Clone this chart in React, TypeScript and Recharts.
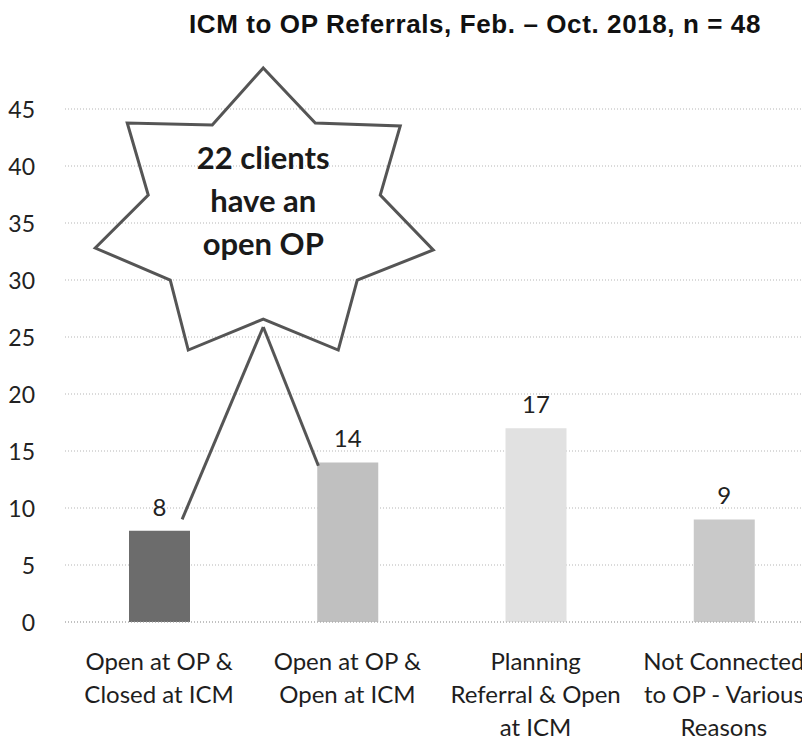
import React from "react"
import { BarChart, Bar, XAxis, YAxis, CartesianGrid, Cell, LabelList } from "recharts"

const categories = [
  "Open at OP &\nClosed at ICM",
  "Open at OP &\nOpen at ICM",
  "Planning\nReferral & Open\nat ICM",
  "Not Connected\nto OP - Various\nReasons",
]
const counts = [8, 14, 17, 9]
const barColors = ["#6c6c6c", "#c0c0c0", "#e1e1e1", "#c9c9c9"]
const yTicks = [0, 5, 10, 15, 20, 25, 30, 35, 40, 45]
const calloutLines = ["22 clients", "have an", "open OP"]

const data = categories.map((c, i) => ({ category: c, count: counts[i] }))

const W = 820
const H = 733
const M = { top: 101, right: 10, bottom: 0, left: 0 }
const Y_AXIS_W = 57
const X_AXIS_H = 119
const plotLeft = M.left + Y_AXIS_W
const plotW = W - plotLeft - M.right
const plotTop = M.top
const plotH = H - M.top - M.bottom - X_AXIS_H
const yMax = 45

// same mapping the chart uses, for the callout overlay
const yPx = (v: number) => plotTop + (1 - v / yMax) * plotH
const bandW = plotW / categories.length
const xPx = (i: number) => plotLeft + bandW * (i + 0.5)

const font = "Lato, 'Open Sans', sans-serif"

const YTick = (props: any) => {
  const { x, y, payload } = props
  return (
    <text x={x - 28} y={y} textAnchor="end" dominantBaseline="central" fontSize={23} fontFamily={font} fill="#222">
      {payload.value}
    </text>
  )
}

const XTick = (props: any) => {
  const { x, y, payload } = props
  const lines = String(payload.value).split("\n")
  return (
    <g>
      {lines.map((line, i) => (
        <text
          key={i}
          x={x}
          y={y + 38 + i * 33}
          textAnchor="middle"
          dominantBaseline="central"
          fontSize={24}
          fontFamily={font}
          fill="#1e1e1e"
        >
          {line}
        </text>
      ))}
    </g>
  )
}

function Callout() {
  // star centred between the first two bars, pointing at them
  const cx = (xPx(0) + xPx(1)) / 2 + 10
  const cy = yPx(35.7)
  const pts: [number, number][] = [
    [0, -147], [52, -92], [137, -89], [117, -20], [170, 35], [94, 65], [75, 135],
    [0, 104], [-75, 135], [-93, 65], [-168, 33], [-115, -20], [-136, -92], [-51, -90],
  ]
  const poly = pts.map(([dx, dy]) => `${cx + dx},${cy + dy}`).join(" ")
  const sx = cx
  const sy = cy + 112
  return (
    <svg width={W} height={H} style={{ position: "absolute", left: 0, top: 0, pointerEvents: "none" }}>
      <polygon points={poly} fill="none" stroke="#555" strokeWidth={3} strokeLinejoin="miter" />
      <line x1={sx} y1={sy} x2={xPx(0) + 23} y2={yPx(9)} stroke="#555" strokeWidth={3} />
      <line x1={sx} y1={sy} x2={xPx(1) - 29} y2={yPx(13.7)} stroke="#555" strokeWidth={3} />
      {calloutLines.map((t, i) => (
        <text
          key={i}
          x={cx}
          y={cy - 58 + i * 43}
          textAnchor="middle"
          dominantBaseline="central"
          fontSize={31}
          fontWeight="bold"
          fontFamily={font}
          fill="#1a1a1a"
        >
          {t}
        </text>
      ))}
    </svg>
  )
}

export default function App() {
  return (
    <div style={{ position: "relative", width: 802, height: H, overflow: "hidden", background: "#fff" }}>
      <div
        style={{
          position: "absolute",
          top: 2,
          left: 132,
          width: 670,
          textAlign: "center",
          fontFamily: "'Liberation Sans', Arial, sans-serif",
          fontWeight: "bold",
          fontSize: 26,
          letterSpacing: 0.6,
          color: "#111",
          lineHeight: "28px",
          whiteSpace: "nowrap",
        }}
      >
        ICM to OP Referrals, Feb. – Oct. 2018, n = 48
      </div>
      <BarChart width={W} height={H} data={data} margin={M}>
        <CartesianGrid vertical={false} stroke="#b5b5b5" strokeDasharray="1 2" />
        <XAxis
          dataKey="category"
          height={X_AXIS_H}
          tick={<XTick />}
          tickLine={false}
          tickSize={0}
          tickMargin={0}
          interval={0}
          axisLine={{ stroke: "#a8a8a8", strokeDasharray: "1 2" }}
        />
        <YAxis
          width={Y_AXIS_W}
          domain={[0, yMax]}
          ticks={yTicks}
          tick={<YTick />}
          tickLine={false}
          tickSize={0}
          axisLine={false}
          interval={0}
        />
        <Bar dataKey="count" barSize={61} isAnimationActive={false}>
          {data.map((_, i) => (
            <Cell key={i} fill={barColors[i]} />
          ))}
          <LabelList dataKey="count" position="top" offset={15} fontSize={24} fontFamily={font} fill="#222" />
        </Bar>
      </BarChart>
      <Callout />
    </div>
  )
}
